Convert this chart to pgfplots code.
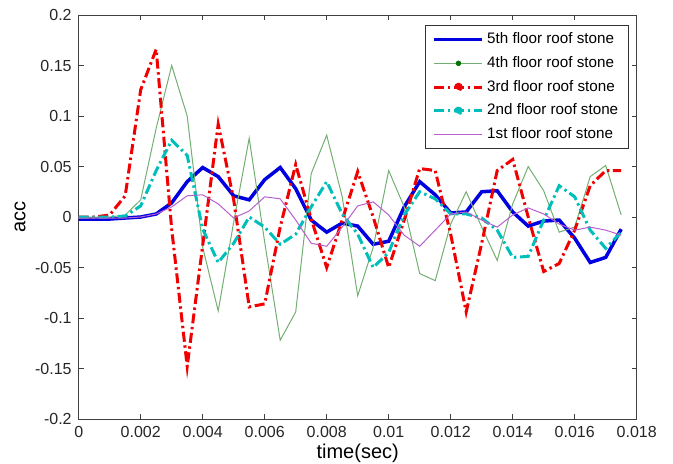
\documentclass[border=0pt]{standalone}
\usepackage{fontspec}
\setmainfont{Liberation Sans}
\usepackage{pgfplots}
\pgfplotsset{compat=1.18}
\usepackage{pgfplotstable}

\definecolor{c5}{RGB}{0,0,225}
\definecolor{c4}{RGB}{115,175,115}
\definecolor{c3}{RGB}{240,0,0}
\definecolor{c2}{RGB}{0,190,185}
\definecolor{c1}{RGB}{185,95,205}

% roof stone accelerations, one column per floor
\pgfplotstableread{
t       s5      s4      s3      s2      s1
0.0000 -0.002   0.000   0.000   0.000  -0.001
0.0005 -0.002   0.000   0.000   0.000  -0.001
0.0010 -0.002   0.000   0.002   0.000  -0.001
0.0015 -0.001   0.002   0.021   0.001  -0.001
0.0020  0.000   0.017   0.126   0.011   0.000
0.0025  0.003   0.088   0.166   0.046   0.003
0.0030  0.014   0.150  -0.012   0.076   0.010
0.0035  0.035   0.100  -0.148   0.061   0.021
0.0040  0.049  -0.030  -0.028  -0.012   0.022
0.0045  0.040  -0.093   0.092  -0.045   0.013
0.0050  0.021  -0.005   0.017  -0.026  -0.001
0.0055  0.017   0.078  -0.089   0.000   0.006
0.0060  0.037  -0.025  -0.086  -0.010   0.020
0.0065  0.049  -0.122  -0.010  -0.027   0.018
0.0070  0.028  -0.094   0.052  -0.017  -0.003
0.0075 -0.003   0.043  -0.002   0.010  -0.026
0.0080 -0.015   0.081  -0.050   0.035  -0.029
0.0085 -0.006   0.020  -0.003   0.003  -0.010
0.0090 -0.009  -0.078   0.045  -0.017   0.011
0.0095 -0.027  -0.030   0.000  -0.050   0.015
0.0100 -0.024   0.046  -0.050  -0.035   0.002
0.0105  0.010   0.010  -0.003   0.002  -0.018
0.0110  0.035  -0.056   0.048   0.025  -0.029
0.0115  0.022  -0.063   0.046   0.018  -0.013
0.0120  0.004  -0.007  -0.017   0.003   0.003
0.0125  0.005   0.025  -0.094   0.003   0.005
0.0130  0.025  -0.010  -0.026  -0.001  -0.003
0.0135  0.026  -0.043   0.046  -0.013  -0.010
0.0140  0.005   0.013   0.057  -0.040   0.002
0.0145 -0.009   0.050   0.000  -0.039   0.009
0.0150 -0.004   0.026  -0.054  -0.003   0.003
0.0155 -0.003  -0.015  -0.046   0.031  -0.007
0.0160 -0.021  -0.010  -0.013   0.020  -0.013
0.0165 -0.045   0.040   0.031  -0.013  -0.010
0.0170 -0.040   0.051   0.046  -0.031  -0.013
0.0175 -0.012   0.002   0.046  -0.015  -0.018
}\acc

\tikzset{
  dashdot/.style={dash pattern=on 5pt off 1.8pt on 1.2pt off 1.8pt},
}
\pgfplotsset{
  lineleg/.style={legend image code/.code={\draw[##1] (0pt,0pt) -- (24pt,0pt);}},
  dotleg/.style 2 args={legend image code/.code={\draw[##1] (0pt,0pt) -- (24pt,0pt);
      \fill[#1] (12pt,0pt) circle (#2);}},
}
\newcommand{\pad}{\hspace{5pt}}

\begin{document}
\begin{tikzpicture}
\useasboundingbox (-39.35pt,-22pt) rectangle (297.15pt,209.5pt);
\begin{axis}[
  scale only axis, width=279pt, height=202pt,
  xmin=0, xmax=0.018, ymin=-0.2, ymax=0.2,
  xtick={0,0.002,0.004,0.006,0.008,0.010,0.012,0.014,0.016,0.018},
  ytick={-0.2,-0.15,-0.1,-0.05,0,0.05,0.1,0.15,0.2},
  scaled x ticks=false, scaled y ticks=false,
  xticklabel style={/pgf/number format/.cd, fixed, precision=3},
  yticklabel style={/pgf/number format/.cd, fixed, precision=2},
  /pgf/number format/assume math mode=true,
  tick label style={font=\fontsize{8}{9.6}\selectfont, text=black!85},
  label style={font=\fontsize{8}{9.6}\selectfont, text=black!85},
  tick align=inside, major tick length=2.5pt,
  tick style={black!75, line width=0.4pt},
  axis line style={black!75, line width=0.5pt},
  xlabel={time(sec)}, ylabel={acc},
  every axis x label/.style={at={(axis description cs:0.5,-0.085)}, anchor=center},
  every axis y label/.style={at={(axis description cs:-0.105,0.5)}, rotate=90, anchor=center},
  legend cell align=left,
  legend style={at={(axis description cs:1,1)}, anchor=north east, xshift=-4pt, yshift=-5pt,
    draw=black!80, line width=0.5pt, fill=white, font=\fontsize{7.6}{9.1}\selectfont,
    inner xsep=3.5pt, inner ysep=1.5pt, row sep=0.9pt,
    nodes={inner xsep=1.5pt}},
  lineleg,
]
\addplot[c5, line width=1.75pt] table[x=t, y=s5] {\acc};
\addlegendentry{5th floor roof stone\pad}
\addplot[c4, line width=0.5pt, dotleg={green!45!black}{1.1pt}]
  table[x=t, y=s4] {\acc};
\addlegendentry{4th floor roof stone\pad}
\addplot[c3, line width=1.5pt, dashdot, dotleg={c3}{1.4pt}]
  table[x=t, y=s3] {\acc};
\addlegendentry{3rd floor roof stone\pad}
\addplot[c2, line width=1.5pt, dashdot, dotleg={c2}{1.4pt}]
  table[x=t, y=s2] {\acc};
\addlegendentry{2nd floor roof stone\pad}
\addplot[c1, line width=0.5pt] table[x=t, y=s1] {\acc};
\addlegendentry{1st floor roof stone\pad}
\end{axis}
\end{tikzpicture}
\end{document}
